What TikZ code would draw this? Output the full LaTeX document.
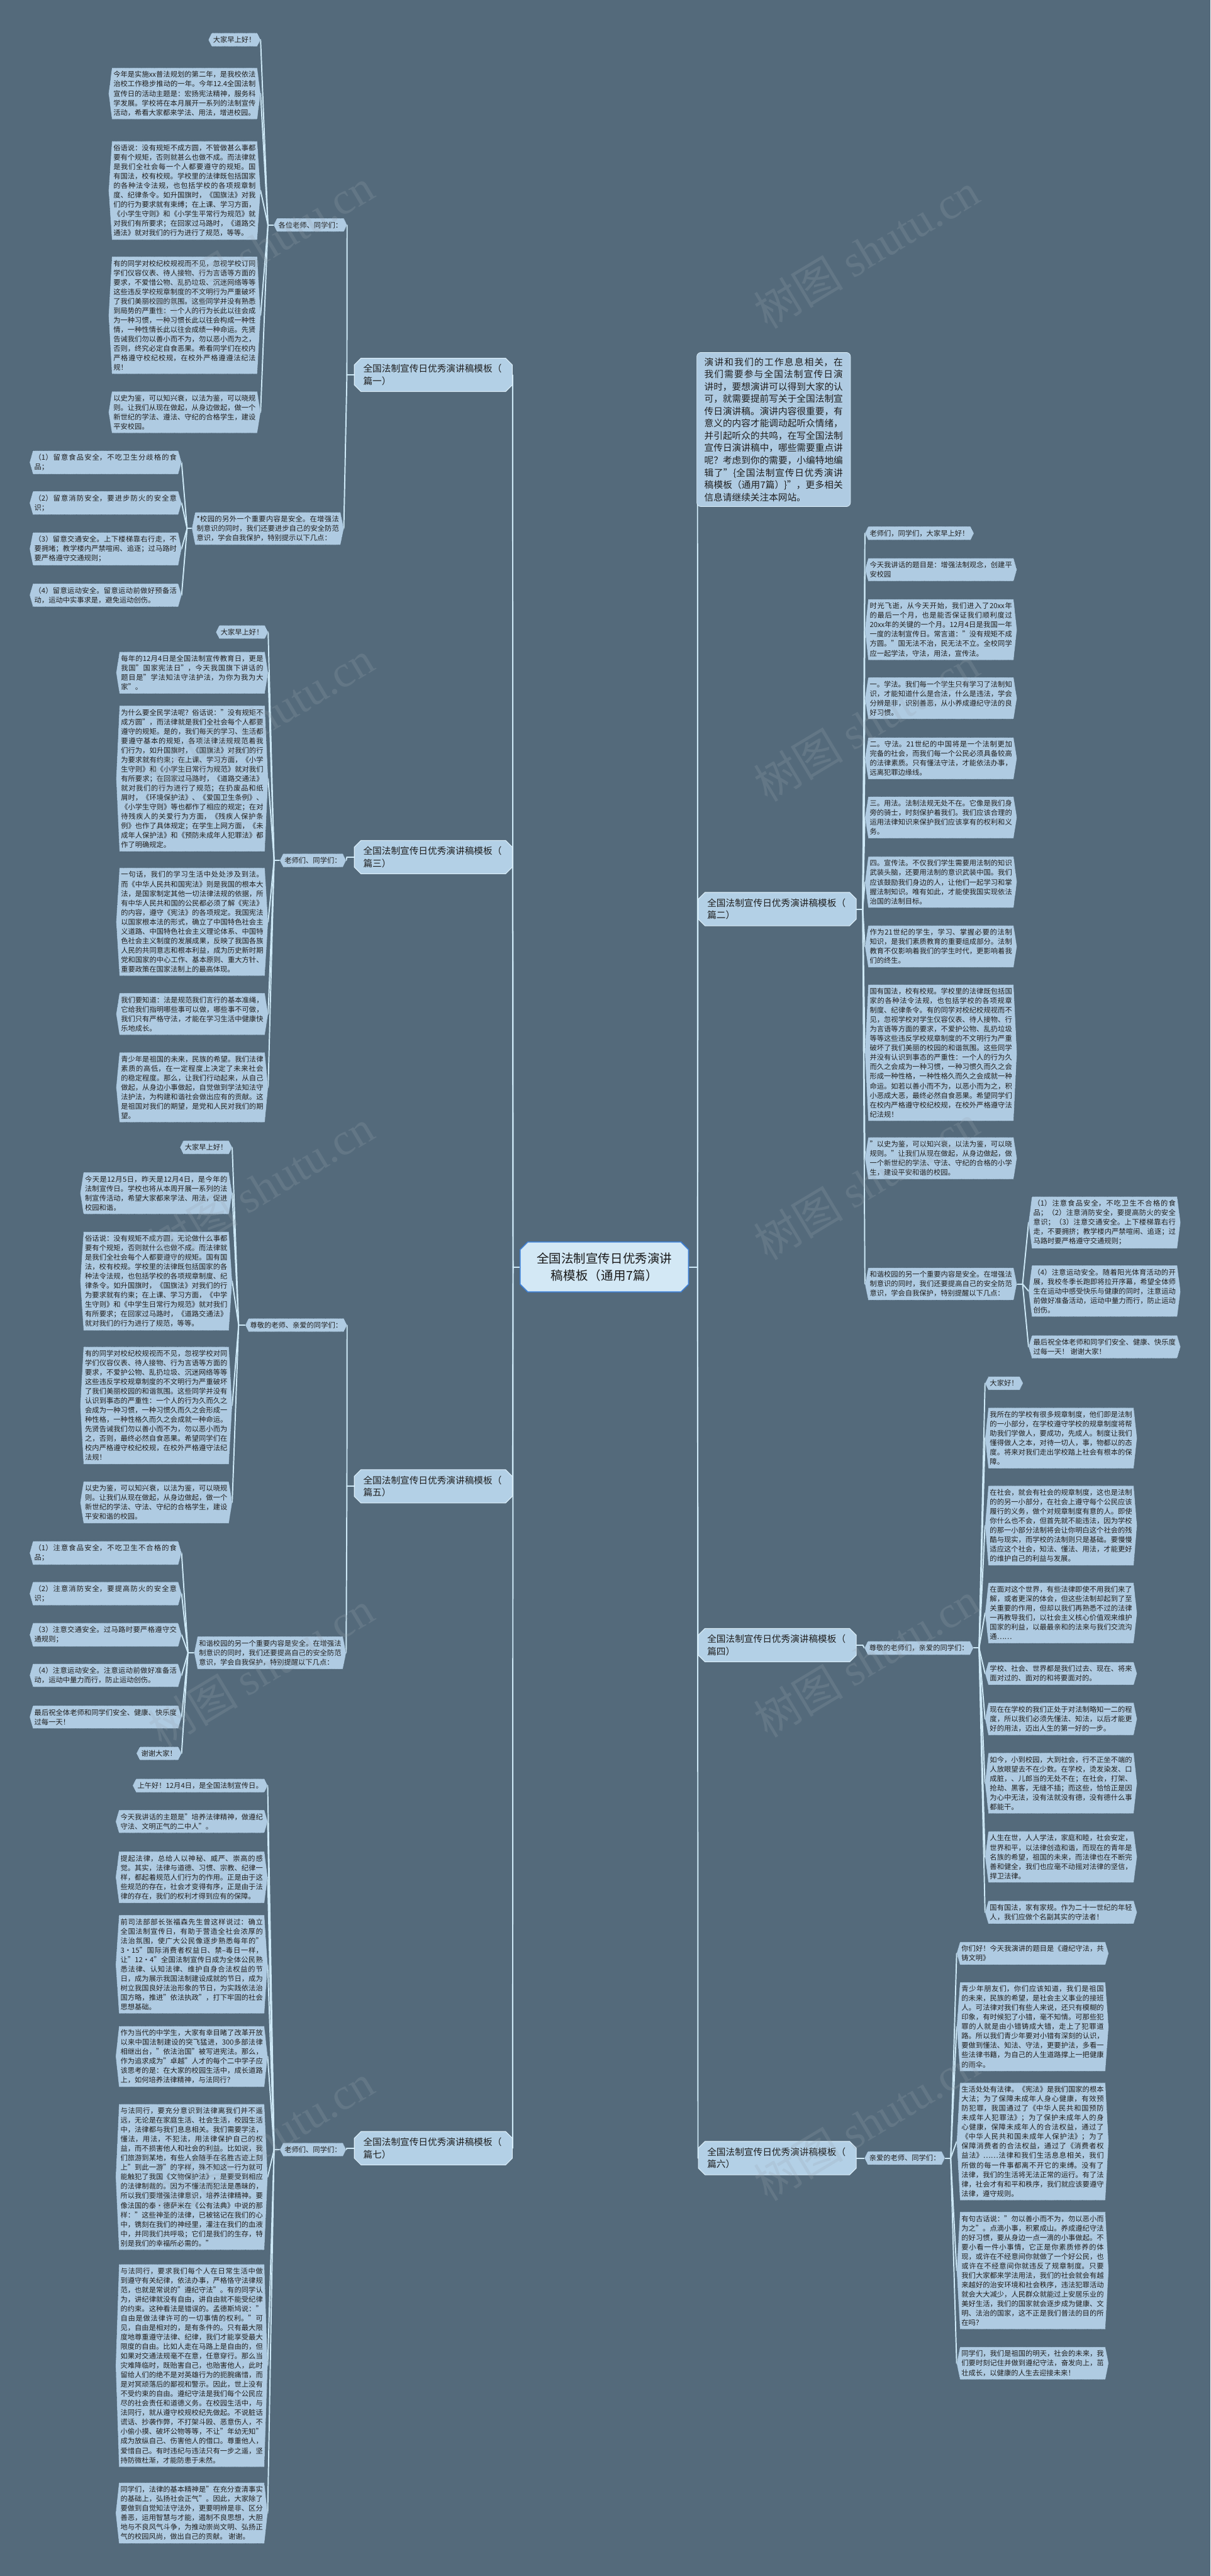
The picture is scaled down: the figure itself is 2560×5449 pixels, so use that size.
\documentclass[tikz,border=0pt]{standalone}
\usepackage{fontspec}
\setmainfont{Noto Sans CJK SC}
\newfontfamily\wmlatin{Liberation Serif}
\XeTeXlinebreaklocale "zh"
\XeTeXlinebreakskip=0pt plus 1pt
\usetikzlibrary{shapes.misc,calc}
\pgfdeclarelayer{bg}
\pgfdeclarelayer{lines}
\pgfdeclarelayer{shapes}
\pgfdeclarelayer{wm}
\pgfsetlayers{bg,lines,shapes,main,wm}
\definecolor{bgc}{HTML}{546A7B}
\definecolor{nfill}{HTML}{AFCBE2}
\definecolor{nbord}{HTML}{34495A}
\definecolor{lnc}{HTML}{CDE8F6}
\definecolor{rootfill}{HTML}{D3E8F5}
\definecolor{rootbord}{HTML}{3F80D4}
\definecolor{brfill}{HTML}{B3D0E6}
\definecolor{brbord}{HTML}{DCEFFA}
\definecolor{wmc}{HTML}{9AA6B0}
\tikzset{
  hxt/.style={inner xsep=10pt, inner ysep=7pt, font=\fontsize{15}{20}\selectfont, text=black!88},
  para/.style={text width=301pt, align=justify},
  hxs/.style={fill=nfill, draw=nbord, dotted, line width=0.8pt},
  conn/.style={draw=lnc, line width=2.6pt, line cap=round, line join=round},
  branch/.style={chamfered rectangle, chamfered rectangle xsep=7pt, chamfered rectangle ysep=7pt,
    fill=brfill, draw=brbord, line width=1.4pt, inner xsep=12pt, inner ysep=6pt,
    text width=296pt, align=left, font=\fontsize{19.5}{26}\selectfont, text=black!88},
  rootbox/.style={chamfered rectangle, chamfered rectangle xsep=8pt, chamfered rectangle ysep=8pt,
    fill=rootfill, draw=rootbord, line width=2.2pt, inner xsep=25pt, inner ysep=15pt,
    text width=290pt, align=center, font=\fontsize{26}{35}\selectfont, text=black!90},
  introbox/.style={rounded corners=9pt, fill=nfill, draw=brbord, line width=1pt,
    text width=293pt, inner xsep=16pt, inner ysep=11pt, align=justify,
    font=\fontsize{19.5}{26}\selectfont, text=black!88},
  wmk/.style={font=\fontsize{95}{95}\selectfont, text=wmc, opacity=0.22, anchor=base west, rotate=31}
}
\newcommand\hexnode[3]{%
  \node[hxt,#2] (#1) {#3};%
  \begin{pgfonlayer}{shapes}%
    \path[hxs] ([xshift=7pt]#1.north west) -- ([xshift=-7pt]#1.north east) -- (#1.east)
      -- ([xshift=-7pt]#1.south east) -- ([xshift=7pt]#1.south west) -- (#1.west) -- cycle;%
  \end{pgfonlayer}}
\newcommand\fanL[3]{%
  \coordinate (#1j) at ([xshift=-#2pt]#1.west);
  \draw[conn] (#1.west) -- (#1j);
  \foreach \c in {#3} \draw[conn] (#1j) -- (\c.east);}
\newcommand\fanR[3]{%
  \coordinate (#1j) at ([xshift=#2pt]#1.east);
  \draw[conn] (#1.east) -- (#1j);
  \foreach \c in {#3} \draw[conn] (#1j) -- (\c.west);}
\begin{document}
\begin{tikzpicture}[x=1pt,y=-1pt]
\useasboundingbox (0,0) rectangle (2560,5449);
\begin{pgfonlayer}{bg}
\fill[bgc] (0,0) rectangle (2560,5449);
\end{pgfonlayer}

% root and branches
\node[rootbox] (root) at (1278,2680) {全国法制宣传日优秀演讲\\稿模板（通用7篇）};
\node[branch, anchor=east] (b1) at (1084,793) {全国法制宣传日优秀演讲稿模板（\\篇一）};
\node[branch, anchor=east] (b2) at (1084,1813) {全国法制宣传日优秀演讲稿模板（\\篇三）};
\node[branch, anchor=east] (b3) at (1084,3144) {全国法制宣传日优秀演讲稿模板（\\篇五）};
\node[branch, anchor=east] (b4) at (1084,4544) {全国法制宣传日优秀演讲稿模板（\\篇七）};
\node[branch, anchor=west] (r1) at (1476,1923) {全国法制宣传日优秀演讲稿模板（\\篇二）};
\node[branch, anchor=west] (r2) at (1476,3480) {全国法制宣传日优秀演讲稿模板（\\篇四）};
\node[branch, anchor=west] (r3) at (1476,4565) {全国法制宣传日优秀演讲稿模板（\\篇六）};
\node[introbox, anchor=north west] (intro) at (1473,745) {演讲和我们的工作息息相关，在我们需要参与全国法制宣传日演讲时，要想演讲可以得到大家的认可，就需要提前写关于全国法制宣传日演讲稿。演讲内容很重要，有意义的内容才能调动起听众情绪，并引起听众的共鸣，在写全国法制宣传日演讲稿中，哪些需要重点讲呢？考虑到你的需要，小编特地编辑了"\{全国法制宣传日优秀演讲稿模板（通用7篇）\}"，更多相关信息请继续关注本网站。};

% ---------- 篇一 ----------
\hexnode{a1}{anchor=east,at={(734,476)}}{各位老师、同学们：}
\hexnode{a1c1}{anchor=east,at={(551,84)}}{大家早上好！}
\hexnode{a1c2}{para,anchor=east,at={(551,198)}}{今年是实施xx普法规划的第二年，是我校依法治校工作稳步推动的一年。今年12.4全国法制宣传日的活动主题是：宏扬宪法精神，服务科学发展。学校将在本月展开一系列的法制宣传活动，希看大家都来学法、用法，增进校园。}
\hexnode{a1c3}{para,anchor=east,at={(551,403)}}{俗语说：没有规矩不成方圆，不管做甚么事都要有个规矩，否则就甚么也做不成。而法律就是我们全社会每一个人都要遵守的规矩。国有国法，校有校规。学校里的法律既包括国家的各种法令法规，也包括学校的各项规章制度、纪律条令。如升国旗时，《国旗法》对我们的行为要求就有束缚；在上课、学习方面，《小学生守则》和《小学生平常行为规范》就对我们有所要求；在回家过马路时，《道路交通法》就对我们的行为进行了规范，等等。}
\hexnode{a1c4}{para,anchor=east,at={(551,667)}}{有的同学对校纪校规视而不见，忽视学校订同学们仪容仪表、待人接物、行为言语等方面的要求，不爱惜公物、乱扔垃圾、沉迷网络等等这些违反学校规章制度的不文明行为严重破坏了我们美丽校园的氛围。这些同学并没有熟悉到局势的严重性：一个人的行为长此以往会成为一种习惯，一种习惯长此以往会构成一种性情，一种性情长此以往会成绩一种命运。先贤告诫我们勿以善小而不为，勿以恶小而为之，否则，终究必定自食恶果。希看同学们在校内严格遵守校纪校规，在校外严格遵遵法纪法规！}
\hexnode{a1c5}{para,anchor=east,at={(551,872)}}{以史为鉴，可以知兴衰，以法为鉴，可以晓规则。让我们从现在做起，从身边做起，做一个新世纪的学法、遵法、守纪的合格学生，建设平安校园。}
\hexnode{a2}{para,anchor=east,at={(727,1118)}}{*校园的另外一个重要内容是安全。在增强法制意识的同时，我们还要进步自己的安全防范意识，学会自我保护，特别提示以下几点：}
\hexnode{a2c1}{para,anchor=east,at={(384,978)}}{（1）留意食品安全，不吃卫生分歧格的食品；}
\hexnode{a2c2}{para,anchor=east,at={(384,1064)}}{（2）留意消防安全，要进步防火的安全意识；}
\hexnode{a2c3}{para,anchor=east,at={(384,1161)}}{（3）留意交通安全。上下楼梯靠右行走，不要拥堵；教学楼内严禁喧闹、追逐；过马路时要严格遵守交通规则；}
\hexnode{a2c4}{para,anchor=east,at={(384,1259)}}{（4）留意运动安全。留意运动前做好预备活动，运动中实事求是，避免运动创伤。}

% ---------- 篇三 ----------
\hexnode{bb}{anchor=east,at={(732,1820)}}{老师们、同学们：}
\hexnode{bbc1}{anchor=east,at={(567,1337)}}{大家早上好！}
\hexnode{bbc2}{para,anchor=east,at={(567,1423)}}{每年的12月4日是全国法制宣传教育日，更是我国"国家宪法日"，今天我国旗下讲话的题目是"学法知法守法护法，为你为我为大家"。}
\hexnode{bbc3}{para,anchor=east,at={(567,1647)}}{为什么要全民学法呢？俗话说："没有规矩不成方圆"，而法律就是我们全社会每个人都要遵守的规矩。是的，我们每天的学习、生活都要遵守基本的规矩，各项法律法规规范着我们行为，如升国旗时，《国旗法》对我们的行为要求就有约束；在上课、学习方面，《小学生守则》和《小学生日常行为规范》就对我们有所要求；在回家过马路时，《道路交通法》就对我们的行为进行了规范；在扔废品和纸屑时，《环境保护法》、《爱国卫生条例》、《小学生守则》等也都作了相应的规定；在对待残疾人的关爱行为方面，《残疾人保护条例》也作了具体规定；在学生上网方面，《未成年人保护法》和《预防未成年人犯罪法》都作了明确规定。}
\hexnode{bbc4}{para,anchor=east,at={(567,1950)}}{一句话，我们的学习生活中处处涉及到法。而《中华人民共和国宪法》则是我国的根本大法，是国家制定其他一切法律法规的依据，所有中华人民共和国的公民都必须了解《宪法》的内容，遵守《宪法》的各项规定。我国宪法以国家根本法的形式，确立了中国特色社会主义道路、中国特色社会主义理论体系、中国特色社会主义制度的发展成果，反映了我国各族人民的共同意志和根本利益，成为历史新时期党和国家的中心工作、基本原则、重大方针、重要政策在国家法制上的最高体现。}
\hexnode{bbc5}{para,anchor=east,at={(567,2145)}}{我们要知道：法是规范我们言行的基本准绳，它给我们指明哪些事可以做，哪些事不可做，我们只有严格守法，才能在学习生活中健康快乐地成长。}
\hexnode{bbc6}{para,anchor=east,at={(567,2300)}}{青少年是祖国的未来，民族的希望。我们法律素质的高低，在一定程度上决定了未来社会的稳定程度。那么，让我们行动起来，从自己做起，从身边小事做起，自觉做到学法知法守法护法，为构建和谐社会做出应有的贡献。这是祖国对我们的期望，是党和人民对我们的期望。}

% ---------- 篇五 ----------
\hexnode{e1}{anchor=east,at={(734,2803)}}{尊敬的老师、亲爱的同学们：}
\hexnode{e1c1}{anchor=east,at={(491,2427)}}{大家早上好！}
\hexnode{e1c2}{para,anchor=east,at={(491,2524)}}{今天是12月5日，昨天是12月4日，是今年的法制宣传日。学校也将从本周开展一系列的法制宣传活动，希望大家都来学法、用法，促进校园和谐。}
\hexnode{e1c3}{para,anchor=east,at={(491,2710)}}{俗话说：没有规矩不成方圆，无论做什么事都要有个规矩，否则就什么也做不成。而法律就是我们全社会每个人都要遵守的规矩。国有国法，校有校规。学校里的法律既包括国家的各种法令法规，也包括学校的各项规章制度、纪律条令。如升国旗时，《国旗法》对我们的行为要求就有约束；在上课、学习方面，《中学生守则》和《中学生日常行为规范》就对我们有所要求；在回家过马路时，《道路交通法》就对我们的行为进行了规范，等等。}
\hexnode{e1c4}{para,anchor=east,at={(491,2973)}}{有的同学对校纪校规视而不见，忽视学校对同学们仪容仪表、待人接物、行为言语等方面的要求，不爱护公物、乱扔垃圾、沉迷网络等等这些违反学校规章制度的不文明行为严重破坏了我们美丽校园的和谐氛围。这些同学并没有认识到事态的严重性：一个人的行为久而久之会成为一种习惯，一种习惯久而久之会形成一种性格，一种性格久而久之会成就一种命运。先贤告诫我们勿以善小而不为，勿以恶小而为之，否则，最终必然自食恶果。希望同学们在校内严格遵守校纪校规，在校外严格遵守法纪法规！}
\hexnode{e1c5}{para,anchor=east,at={(491,3178)}}{以史为鉴，可以知兴衰，以法为鉴，可以晓规则。让我们从现在做起，从身边做起，做一个新世纪的学法、守法、守纪的合格学生，建设平安和谐的校园。}
\hexnode{e2}{para,anchor=east,at={(732,3496)}}{和谐校园的另一个重要内容是安全。在增强法制意识的同时，我们还要提高自己的安全防范意识，学会自我保护，特别提醒以下几点：}
\hexnode{e2c1}{para,anchor=east,at={(384,3285)}}{（1）注意食品安全，不吃卫生不合格的食品；}
\hexnode{e2c2}{para,anchor=east,at={(384,3371)}}{（2）注意消防安全，要提高防火的安全意识；}
\hexnode{e2c3}{para,anchor=east,at={(384,3458)}}{（3）注意交通安全。过马路时要严格遵守交通规则；}
\hexnode{e2c4}{para,anchor=east,at={(384,3544)}}{（4）注意运动安全。注意运动前做好准备活动，运动中量力而行，防止运动创伤。}
\hexnode{e2c5}{para,anchor=east,at={(384,3632)}}{最后祝全体老师和同学们安全、健康、快乐度过每一天！}
\hexnode{e2c6}{anchor=east,at={(384,3709)}}{谢谢大家！}

% ---------- 篇七 ----------
\hexnode{f1}{anchor=east,at={(732,4547)}}{老师们、同学们：}
\hexnode{f1c1}{anchor=east,at={(566,3777)}}{上午好！12月4日，是全国法制宣传日。}
\hexnode{f1c2}{para,anchor=east,at={(566,3853)}}{今天我讲话的主题是"培养法律精神，做遵纪守法、文明正气的二中人"。}
\hexnode{f1c3}{para,anchor=east,at={(566,3971)}}{提起法律，总给人以神秘、威严、崇高的感觉。其实，法律与道德、习惯、宗教、纪律一样，都起着规范人们行为的作用。正是由于这些规范的存在，社会才变得有序，正是由于法律的存在，我们的权利才得到应有的保障。}
\hexnode{f1c4}{para,anchor=east,at={(566,4155)}}{前司法部部长张福森先生曾这样说过：确立全国法制宣传日，有助于营造全社会浓厚的法治氛围，使广大公民像逐步熟悉每年的"3•15"国际消费者权益日、禁–毒日一样，让"12•4"全国法制宣传日成为全体公民熟悉法律、认知法律、维护自身合法权益的节日，成为展示我国法制建设成就的节日，成为树立我国良好法治形象的节日，为实践依法治国方略，推进"依法执政"，打下牢固的社会思想基础。}
\hexnode{f1c5}{para,anchor=east,at={(566,4350)}}{作为当代的中学生，大家有幸目睹了改革开放以来中国法制建设的突飞猛进，300多部法律相继出台，"依法治国"被写进宪法。那么，作为追求成为"卓越"人才的每个二中学子应该思考的是：在大家的校园生活中，成长道路上，如何培养法律精神，与法同行？}
\hexnode{f1c6}{para,anchor=east,at={(566,4605)}}{与法同行，要充分意识到法律离我们并不遥远，无论是在家庭生活、社会生活，校园生活中，法律都与我们息息相关。我们需要学法，懂法，用法，不犯法，用法律保护自己的权益，而不损害他人和社会的利益。比如说，我们旅游到某地，有些人会随手在名胜古迹上刻上"到此一游"的字样，殊不知这一行为就可能触犯了我国《文物保护法》，是要受到相应的法律制裁的。因为不懂法而犯法是愚昧的，所以我们要增强法律意识，培养法律精神。要像法国的泰·德萨米在《公有法典》中说的那样："这些神圣的法律，已被铭记在我们的心中，镌刻在我们的神经里，灌注在我们的血液中，并同我们共呼吸；它们是我们的生存，特别是我们的幸福所必需的。"}
\hexnode{f1c7}{para,anchor=east,at={(566,5004)}}{与法同行，要求我们每个人在日常生活中做到遵守有关纪律，依法办事，严格恪守法律规范，也就是常说的"遵纪守法"。有的同学认为，讲纪律就没有自由，讲自由就不能受纪律的约束。这种看法是错误的。孟德斯鸠说："自由是做法律许可的一切事情的权利。"可见，自由是相对的，是有条件的。只有最大限度地尊重遵守法律、纪律，我们才能享受最大限度的自由。比如人走在马路上是自由的，但如果对交通法规毫不在意，任意穿行。那么当灾难降临时，既贻害自己，也贻害他人，此时留给人们的绝不是对英雄行为的扼腕痛惜，而是对冥顽落后的鄙视和警示。因此，世上没有不受约束的自由。遵纪守法是我们每个公民应尽的社会责任和道德义务。在校园生活中，与法同行，就从遵守校规校纪先做起。不说脏话谎话、抄袭作弊，不打架斗殴、恶意伤人，不小偷小摸、破坏公物等等，不让"年幼无知"成为放纵自己、伤害他人的借口。尊重他人，爱惜自己。有时违纪与违法只有一步之遥，坚持防微杜渐，才能防患于未然。}
\hexnode{f1c8}{para,anchor=east,at={(566,5316)}}{同学们，法律的基本精神是"在充分查清事实的基础上，弘扬社会正气"。因此，大家除了要做到自觉知法守法外，更要明辨是非、区分善恶，运用智慧与才能，遏制不良思想，大胆地与不良风气斗争，为推动崇尚文明、弘扬正气的校园风尚，做出自己的贡献。 谢谢。}

% ---------- 篇二 ----------
\hexnode{u1}{anchor=west,at={(1829,1128)}}{老师们，同学们，大家早上好！}
\hexnode{u2}{para,anchor=west,at={(1829,1205)}}{今天我讲话的题目是：增强法制观念，创建平安校园}
\hexnode{u3}{para,anchor=west,at={(1829,1332)}}{时光飞逝，从今天开始，我们进入了20xx年的最后一个月，也是能否保证我们顺利度过20xx年的关键的一个月。12月4日是我国一年一度的法制宣传日。常言道："没有规矩不成方圆。"国无法不治，民无法不立。全校同学应一起学法，守法，用法，宣传法。}
\hexnode{u4}{para,anchor=west,at={(1829,1477)}}{一。学法。我们每一个学生只有学习了法制知识，才能知道什么是合法，什么是违法，学会分辨是非，识别善恶，从小养成遵纪守法的良好习惯。}
\hexnode{u5}{para,anchor=west,at={(1829,1604)}}{二。守法。21世纪的中国将是一个法制更加完备的社会，而我们每一个公民必须具备较高的法律素质。只有懂法守法，才能依法办事，远离犯罪边缘线。}
\hexnode{u6}{para,anchor=west,at={(1829,1729)}}{三。用法。法制法规无处不在。它像是我们身旁的骑士，时刻保护着我们。我们应该合理的运用法律知识来保护我们应该享有的权利和义务。}
\hexnode{u7}{para,anchor=west,at={(1829,1866)}}{四。宣传法。不仅我们学生需要用法制的知识武装头脑，还要用法制的意识武装中国。我们应该鼓励我们身边的人，让他们一起学习和掌握法制知识。唯有如此，才能使我国实现依法治国的法制目标。}
\hexnode{u8}{para,anchor=west,at={(1829,2002)}}{作为21世纪的学生，学习、掌握必要的法制知识，是我们素质教育的重要组成部分。法制教育不仅影响着我们的学生时代，更影响着我们的终生。}
\hexnode{u9}{para,anchor=west,at={(1829,2227)}}{国有国法，校有校规。学校里的法律既包括国家的各种法令法规，也包括学校的各项规章制度、纪律条令。有的同学对校纪校规视而不见，忽视学校对学生仪容仪表、待人接物、行为言语等方面的要求，不爱护公物、乱扔垃圾等等这些违反学校规章制度的不文明行为严重破坏了我们美丽的校园的和谐氛围。这些同学并没有认识到事态的严重性：一个人的行为久而久之会成为一种习惯，一种习惯久而久之会形成一种性格，一种性格久而久之会成就一种命运。如若以善小而不为，以恶小而为之，积小恶成大恶，最终必然自食恶果。希望同学们在校内严格遵守校纪校规，在校外严格遵守法纪法规！}
\hexnode{u10}{para,anchor=west,at={(1829,2450)}}{"以史为鉴，可以知兴衰，以法为鉴，可以晓规则。"让我们从现在做起，从身边做起，做一个新世纪的学法、守法、守纪的合格的小学生，建设平安和谐的校园。}
\hexnode{u11}{para,anchor=west,at={(1829,2716)}}{和谐校园的另一个重要内容是安全。在增强法制意识的同时，我们还要提高自己的安全防范意识，学会自我保护，特别提醒以下几点：}
\hexnode{u11a}{para,anchor=west,at={(2175,2586)}}{（1）注意食品安全，不吃卫生不合格的食品；（2）注意消防安全，要提高防火的安全意识；（3）注意交通安全。上下楼梯靠右行走，不要拥挤；教学楼内严禁喧闹、追逐；过马路时要严格遵守交通规则；}
\hexnode{u11b}{para,anchor=west,at={(2175,2731)}}{（4）注意运动安全。随着阳光体育活动的开展，我校冬季长跑即将拉开序幕，希望全体师生在运动中感受快乐与健康的同时，注意运动前做好准备活动，运动中量力而行，防止运动创伤。}
\hexnode{u11c}{para,anchor=west,at={(2175,2849)}}{最后祝全体老师和同学们安全、健康、快乐度过每一天！ 谢谢大家！}

% ---------- 篇四 ----------
\hexnode{v}{anchor=west,at={(1828,3486)}}{尊敬的老师们，亲爱的同学们：}
\hexnode{v1}{anchor=west,at={(2083,2926)}}{大家好！}
\hexnode{v2}{para,anchor=west,at={(2083,3042)}}{我所在的学校有很多规章制度，他们即是法制的一小部分，在学校遵守学校的规章制度将帮助我们学做人，要成功，先成人。制度让我们懂得做人之本，对待一切人，事，物都以的态度。将来对我们走出学校踏上社会有根本的保障。}
\hexnode{v3}{para,anchor=west,at={(2083,3227)}}{在社会，就会有社会的规章制度，这也是法制的的另一小部分，在社会上遵守每个公民应该履行的义务，做个对规章制度有意的人。即使你什么也不会，但首先就不能违法，因为学校的那一小部分法制将会让你明白这个社会的残酷与现实，而学校的法制则只是基础。要慢慢适应这个社会，知法、懂法、用法，才能更好的维护自己的利益与发展。}
\hexnode{v4}{para,anchor=west,at={(2083,3412)}}{在面对这个世界，有些法律即使不用我们来了解，或者更深的体会，但这些法制却起到了至关重要的作用，但却以我们再熟悉不过的法律一再教导我们，以社会主义核心价值观来维护国家的利益，以最最亲和的法来与我们交流沟通……}
\hexnode{v5}{para,anchor=west,at={(2083,3540)}}{学校、社会、世界都是我们过去、现在、将来面对过的、面对的和将要面对的。}
\hexnode{v6}{para,anchor=west,at={(2083,3636)}}{现在在学校的我们正处于对法制略知一二的程度，所以我们必须先懂法、知法，以后才能更好的用法，迈出人生的第一好的一步。}
\hexnode{v7}{para,anchor=west,at={(2083,3772)}}{如今，小到校园，大到社会，行不正坐不端的人放眼望去不在少数。在学校，烫发染发、口成脏，、儿郎当的无处不在；在社会，打架、抢劫、黑客，无缝不插；而这些，恰恰正是因为心中无法，没有法就没有德，没有德什么事都能干。}
\hexnode{v8}{para,anchor=west,at={(2083,3928)}}{人生在世，人人学法，家庭和睦，社会安定，世界和平，以法律创造和谐，而现在的青年是名族的希望，祖国的未来，而法律也在不断完善和健全，我们也应毫不动摇对法律的坚信，捍卫法律。}
\hexnode{v9}{para,anchor=west,at={(2083,4045)}}{国有国法，家有家规。作为二十一世纪的年轻人，我们应做个名副其实的守法者！}

% ---------- 篇六 ----------
\hexnode{w}{anchor=west,at={(1828,4565)}}{亲爱的老师、同学们：}
\hexnode{w1}{para,anchor=west,at={(2023,4132)}}{你们好！今天我演讲的题目是《遵纪守法，共铸文明》}
\hexnode{w2}{para,anchor=west,at={(2023,4287)}}{青少年朋友们，你们应该知道，我们是祖国的未来，民族的希望，是社会主义事业的接班人。可法律对我们有些人来说，还只有模糊的印象，有时候犯了小错，毫不知情。可那些犯罪的人就是由小错铸成大错，走上了犯罪道路。所以我们青少年要对小错有深刻的认识，要做到懂法、知法、守法，更要护法，多看一些法律书籍，为自己的人生道路撑上一把健康的雨伞。}
\hexnode{w3}{para,anchor=west,at={(2023,4530)}}{生活处处有法律。《宪法》是我们国家的根本大法；为了保障未成年人身心健康，有效预防犯罪，我国通过了《中华人民共和国预防未成年人犯罪法》；为了保护未成年人的身心健康，保障未成年人的合法权益，通过了《中华人民共和国未成年人保护法》；为了保障消费者的合法权益，通过了《消费者权益法》……法律和我们生活息息相关，我们所做的每一件事都离不开它的束缚。没有了法律，我们的生活将无法正常的运行。有了法律，社会才有和平和秩序，我们就应该要遵守法律，遵守规则。}
\hexnode{w4}{para,anchor=west,at={(2023,4803)}}{有句古话说："勿以善小而不为，勿以恶小而为之"。点滴小事，积累成山。养成遵纪守法的好习惯，要从身边一点一滴的小事做起。不要小看一件小事情，它正是你素质修养的体现，或许在不经意间你就做了一个好公民，也或许在不经意间你就违反了规章制度。只要我们大家都来学法用法，我们的社会就会有越来越好的治安环境和社会秩序，违法犯罪活动就会大大减少，人民群众就能过上安居乐业的美好生活，我们的国家就会逐步成为健康、文明、法治的国家，这不正是我们普法的目的所在吗？}
\hexnode{w5}{para,anchor=west,at={(2023,4999)}}{同学们，我们是祖国的明天，社会的未来，我们要时刻记住并做到遵纪守法，奋发向上，茁壮成长，以健康的人生去迎接未来！}

% ---------- connectors ----------
\begin{pgfonlayer}{lines}
  \coordinate (jl) at ([xshift=-14pt]root.west);
  \coordinate (jr) at ([xshift=18pt]root.east);
  \draw[conn] (root.west) -- (jl);
  \draw[conn] (root.east) -- (jr);
  \foreach \n in {b1,b2,b3,b4} \draw[conn] (jl) -- (\n.east);
  \foreach \n in {r1,r2,r3} \draw[conn] (jr) -- (\n.west);
  \draw[conn] (jr) -- ([xshift=2pt,yshift=10pt]intro.south west);
  \fanL{b1}{15}{a1,a2}
  \fanL{a1}{12}{a1c1,a1c2,a1c3,a1c4,a1c5}
  \fanL{a2}{10}{a2c1,a2c2,a2c3,a2c4}
  \fanL{b2}{15}{bb}
  \fanL{bb}{12}{bbc1,bbc2,bbc3,bbc4,bbc5,bbc6}
  \fanL{b3}{15}{e1,e2}
  \fanL{e1}{14}{e1c1,e1c2,e1c3,e1c4,e1c5}
  \fanL{e2}{13}{e2c1,e2c2,e2c3,e2c4,e2c5,e2c6}
  \fanL{b4}{15}{f1}
  \fanL{f1}{12}{f1c1,f1c2,f1c3,f1c4,f1c5,f1c6,f1c7,f1c8}
  \fanR{r1}{13}{u1,u2,u3,u4,u5,u6,u7,u8,u9,u10,u11}
  \fanR{u11}{12}{u11a,u11b,u11c}
  \fanR{r2}{13}{v}
  \fanR{v}{12}{v1,v2,v3,v4,v5,v6,v7,v8,v9}
  \fanR{r3}{13}{w}
  \fanR{w}{12}{w1,w2,w3,w4,w5}
\end{pgfonlayer}

% ---------- watermarks ----------
\begin{pgfonlayer}{wm}
  \foreach \wx/\wy [count=\i] in {340/690,340/1690,340/2680,340/3700,340/4700,1620/700,1620/1700,1620/2670,1620/3680,1620/4660}
    \node[wmk] (wm\i) at (\wx,\wy) {树图 {\wmlatin shutu.cn}};
\end{pgfonlayer}
\end{tikzpicture}
\end{document}
